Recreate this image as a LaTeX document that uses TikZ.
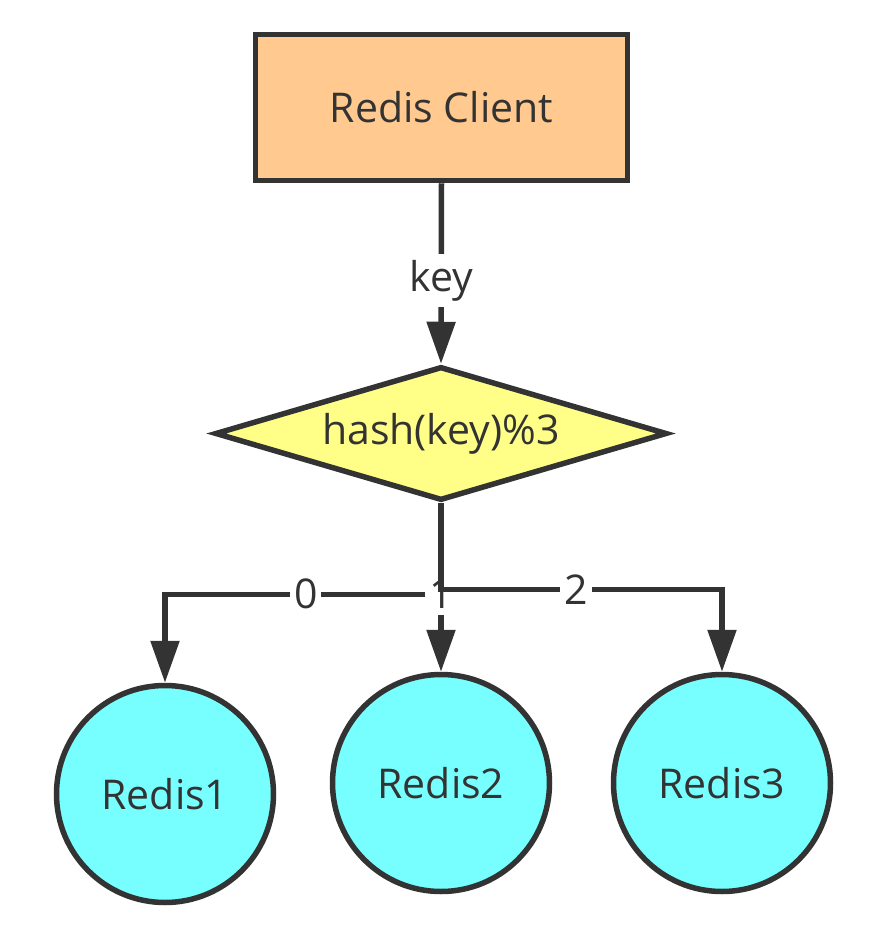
\documentclass[tikz,border=0pt]{standalone}
\usepackage{fontspec}
\setmainfont{Open Sans}
\usetikzlibrary{shapes.geometric,arrows.meta}
\definecolor{ink}{HTML}{333333}
\definecolor{peach}{HTML}{FFC990}
\definecolor{lemon}{HTML}{FFFF88}
\definecolor{aqua}{HTML}{77FFFF}
\begin{document}
\begin{tikzpicture}[x=1pt,y=-1pt,
  every node/.style={text=ink,font=\fontsize{41}{48}\selectfont},
  boxnode/.style={draw=ink,line width=5.5pt,fill=peach,rectangle,minimum width=372pt,minimum height=146pt,inner sep=0pt},
  decnode/.style={draw=ink,line width=5.5pt,fill=lemon,diamond,aspect=3.37,minimum width=452pt,minimum height=134pt,inner sep=0pt},
  srvnode/.style={draw=ink,line width=5.5pt,fill=aqua,circle,minimum size=217pt,inner sep=0pt},
  conn/.style={draw=ink,line width=5.5pt,-{Triangle[length=42pt,width=28pt]}},
  lbl/.style={fill=white,inner xsep=4pt,inner ysep=6pt}
]
\useasboundingbox (0,0) rectangle (876,938);
\node[boxnode] (client) at (441.5,107.5) {Redis Client};
\node[decnode] (hash) at (441,433.5) {hash(key)\%3};
\node[srvnode] (r1) at (165,794) {Redis1};
\node[srvnode] (r2) at (441,783) {Redis2};
\node[srvnode] (r3) at (722,783) {Redis3};
\draw[conn] (client.south) -- node[lbl,pos=0.54]{key} (hash.north);
\draw[conn] (hash.south) -- ++(0,91) -| node[lbl,pos=0.245]{0} (r1.north);
\draw[conn] (hash.south) -- node[lbl,pos=0.54]{1} (r2.north);
\draw[conn] (hash.south) -- ++(0,86) -| node[lbl,pos=0.24]{2} (r3.north);
\end{tikzpicture}
\end{document}
